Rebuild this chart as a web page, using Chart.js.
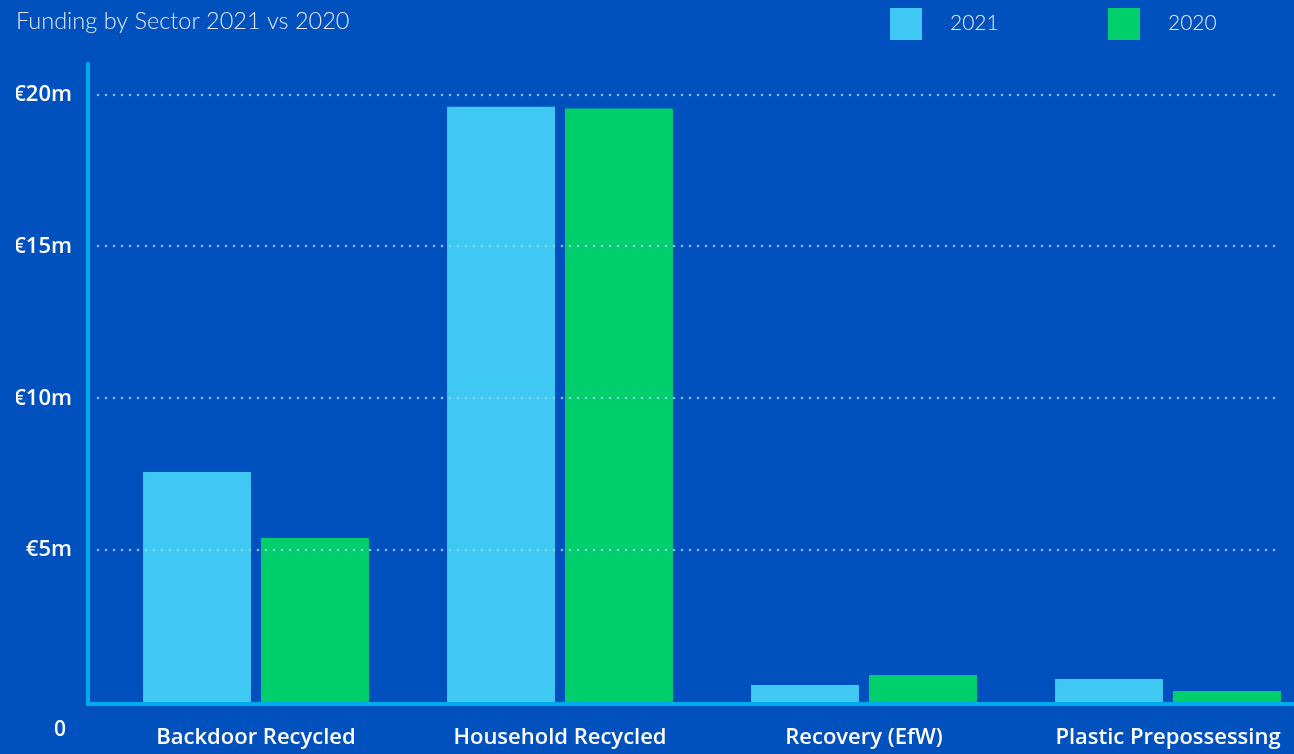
<!DOCTYPE html>
<html>
<head>
<meta charset="utf-8">
<title>Funding by Sector 2021 vs 2020</title>
<script src="https://cdn.jsdelivr.net/npm/chart.js@4"></script>
<style>
  html, body { margin: 0; padding: 0; background: #0050be; overflow: hidden; }
  #wrap { position: relative; width: 1294px; height: 754px; overflow: hidden; }
  #chart-box { position: absolute; left: 0; top: 0; width: 1340px; height: 754px; }
  #legend { position: absolute; top: 6px; left: 890px; margin: 0; padding: 0; list-style: none;
            font-family: Lato, sans-serif; font-weight: 300; font-size: 21px; color: #e6eefa; }
  #legend li { position: absolute; top: 0; height: 32px; line-height: 32px; white-space: nowrap; }
  #legend .box { display: inline-block; width: 32px; height: 32px; vertical-align: top; margin-right: 28px; margin-top: 2px; }
</style>
</head>
<body>
<div id="wrap">
  <div id="chart-box"><canvas id="funding"></canvas></div>
  <ul id="legend"></ul>
</div>
<script>
// Sectors and funding (in € millions)
const sectors = ["Backdoor Recycled", "Household Recycled", "Recovery (EfW)", "Plastic Prepossessing"];
const funding2021 = [7.57, 19.6, 0.56, 0.76];
const funding2020 = [5.4, 19.54, 0.89, 0.36];
const yTicks = [5, 10, 15, 20];

const axisColor = "#00aaeb";
const labelFont = { family: "Open Sans", size: 22, weight: "600" };

// dotted grid lines + the L shaped axis
const axisLines = {
  id: "axisLines",
  afterDatasetsDraw(chart) {
    const ctx = chart.ctx;
    const y = chart.scales.y;
    const area = chart.chartArea;
    const axisX = area.left - 16;
    ctx.save();
    ctx.strokeStyle = "rgba(150, 205, 245, 0.9)";
    ctx.lineWidth = 2.6;
    ctx.lineCap = "round";
    ctx.setLineDash([0, 8]);
    yTicks.forEach(v => {
      const py = Math.round(y.getPixelForValue(v));
      ctx.beginPath();
      ctx.moveTo(axisX + 10, py);
      ctx.lineTo(1277, py);
      ctx.stroke();
    });
    ctx.setLineDash([]);
    ctx.lineCap = "butt";
    ctx.strokeStyle = axisColor;
    ctx.lineWidth = 4;
    const bottom = y.getPixelForValue(0) + 2;
    ctx.beginPath();
    ctx.moveTo(axisX, area.top - 2);
    ctx.lineTo(axisX, bottom);
    ctx.lineTo(chart.width, bottom);
    ctx.stroke();
    // zero label sits below the axis corner
    ctx.fillStyle = "#ffffff";
    ctx.font = "600 21px 'Open Sans'";
    ctx.textAlign = "center";
    ctx.textBaseline = "middle";
    ctx.fillText("0", 60, bottom + 26);
    ctx.restore();
  }
};

const chart = new Chart(document.getElementById("funding"), {
  type: "bar",
  data: {
    labels: sectors,
    datasets: [{
      label: "2021",
      data: funding2021,
      backgroundColor: "#40c8f4",
      categoryPercentage: 0.776,
      barPercentage: 0.915
    }, {
      label: "2020",
      data: funding2020,
      backgroundColor: "#00cf6c",
      categoryPercentage: 0.776,
      barPercentage: 0.915
    }]
  },
  options: {
    responsive: true,
    maintainAspectRatio: false,
    animation: false,
    layout: { padding: { left: 16, right: 20, top: 0, bottom: 0 } },
    plugins: {
      legend: { display: false },
      tooltip: { enabled: false },
      title: {
        display: true,
        text: "Funding by Sector 2021 vs 2020",
        align: "start",
        color: "#dfe9f7",
        font: { family: "Lato", size: 23.5, weight: "300" },
        padding: { top: 7, bottom: 29 }
      }
    },
    scales: {
      x: {
        afterFit(scale) { scale.height = 52; },
        grid: { display: false, drawTicks: false },
        border: { display: false },
        ticks: {
          color: "#ffffff",
          font: labelFont,
          padding: 23,
          maxRotation: 0,
          autoSkip: false
        }
      },
      y: {
        min: 0,
        max: 21,
        afterFit(scale) { scale.width = 88; },
        afterBuildTicks(scale) { scale.ticks = yTicks.map(v => ({ value: v })); },
        grid: { display: false, drawTicks: false },
        border: { display: false },
        ticks: {
          color: "#ffffff",
          font: labelFont,
          padding: 32,
          callback: v => "€" + v + "m"
        }
      }
    }
  },
  plugins: [axisLines]
});

// legend as html next to the title
const legend = document.getElementById("legend");
const offsets = [0, 218];
chart.data.datasets.forEach((ds, i) => {
  const li = document.createElement("li");
  li.style.left = offsets[i] + "px";
  li.innerHTML = `<span class="box" style="background:${ds.backgroundColor}"></span>${ds.label}`;
  legend.appendChild(li);
});
</script>
</body>
</html>
